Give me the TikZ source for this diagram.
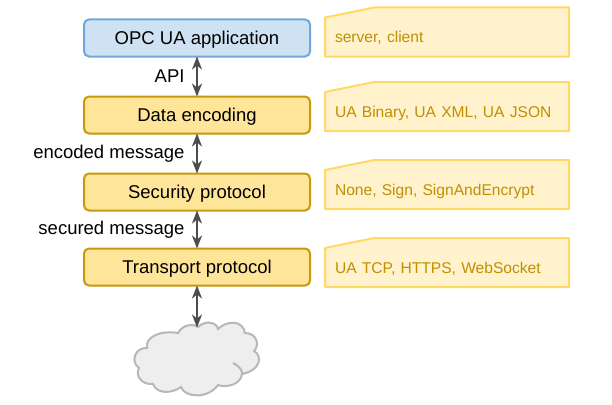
\documentclass[tikz,border=0pt]{standalone}
\usepackage{fontspec}
\setmainfont{Liberation Sans}
\usepackage{tikz}
\usetikzlibrary{
   arrows.meta,
   positioning,
   backgrounds
}
\definecolor{layerfill}{HTML}{FFE599}
\definecolor{layerline}{HTML}{C79A0C}
\definecolor{appfill}{HTML}{CFE2F3}
\definecolor{appline}{HTML}{6FA8DC}
\definecolor{notefill}{HTML}{FFF2CC}
\definecolor{noteline}{HTML}{FFD966}
\definecolor{notetext}{HTML}{BF9000}
\definecolor{cloudfill}{HTML}{EEEEEE}
\definecolor{cloudline}{HTML}{B7B7B7}
\definecolor{arrowline}{HTML}{4D4D4D}

\begin{document}
\begin{tikzpicture}[
    x=1pt, y=-1pt,
    node distance=40pt,
    >={Stealth[length=13pt, width=10pt, inset=4pt]},
    box/.style={rectangle, rounded corners=5pt, draw=layerline, fill=layerfill, line width=2pt, outer sep=0pt, minimum width=226pt, minimum height=37pt, inner ysep=0pt, text height=13.5pt, text depth=0pt, align=center, font=\fontsize{18.5}{22}\selectfont},
    note/.style={rectangle, outer sep=0pt, minimum width=244pt, minimum height=39pt, inner xsep=10pt, inner ysep=0pt, text width=224pt, text height=12pt, text depth=0pt, align=left, text=notetext, font=\fontsize{15.6}{19}\selectfont},
    notepath/.style={draw=noteline, fill=notefill, line width=2pt, line join=round},
    arrow/.style={<->, draw=arrowline, line width=2pt},
    lbl/.style={left=11.5pt, font=\fontsize{18.5}{22}\selectfont, inner sep=0pt}
]
\useasboundingbox (0,0) rectangle (612,404);

\node[box, fill=appfill, draw=appline] (app) at (197,38) {OPC UA application};
\node[box, below=of app] (enc) {Data encoding};
\node[box, below=of enc] (sec) {Security protocol};
\node[box, below=38pt of sec] (tra) {Transport protocol};
\coordinate[below=42pt of tra] (net);

% notes, the slanted top goes in behind the text
\node[note, right=15pt of app.south east, anchor=south west] (appnote) {server, client};
\node[note, right=15pt of enc.south east, anchor=south west, yshift=2.5pt] (encnote) {UA Binary, UA XML, UA JSON};
\node[note, right=15pt of sec.south east, anchor=south west, yshift=1.5pt] (secnote) {None, Sign, SignAndEncrypt};
\node[note, right=15pt of tra.south east, anchor=south west, yshift=-1.5pt] (tranote) {UA TCP, HTTPS, WebSocket};

\begin{scope}[on background layer]
\foreach \n in {appnote, encnote, secnote, tranote}
    \draw[notepath] (\n.south west) -- (\n.north west) -- ([xshift=49pt, yshift=10pt]\n.north west) -- ([yshift=10pt]\n.north east) -- (\n.south east) -- cycle;
\end{scope}

% cloud
\draw[draw=cloudline, fill=cloudfill, line width=2pt]
    (147,348) .. controls (145,337) and (160,330) .. (178,333)
    .. controls (182,325) and (193,323) .. (198,327)
    .. controls (205,320) and (217,322) .. (218,329)
    .. controls (227,320) and (243,320) .. (245,333)
    .. controls (257,333) and (260,345) .. (254,351)
    .. controls (262,355) and (262,370) .. (242,374)
    .. controls (241,385) and (225,388) .. (218,385)
    .. controls (208,399) and (185,398) .. (181,387)
    .. controls (173,393) and (157,395) .. (153,384)
    .. controls (141,385) and (135,375) .. (139,368)
    .. controls (130,362) and (135,347) .. (147,348) -- cycle;
\draw[draw=cloudline, line width=2pt] (233,363) .. controls (241,367) and (243,372) .. (242,375);

\draw[arrow] (app) -- node[lbl] (apilbl) {API} (enc);
\draw[arrow] (enc) -- node[lbl] (enclbl) {encoded message} (sec);
\draw[arrow] (sec) -- node[lbl] (seclbl) {secured message} (tra);
\draw[arrow] (tra) -- (net);

\end{tikzpicture}
\end{document}
